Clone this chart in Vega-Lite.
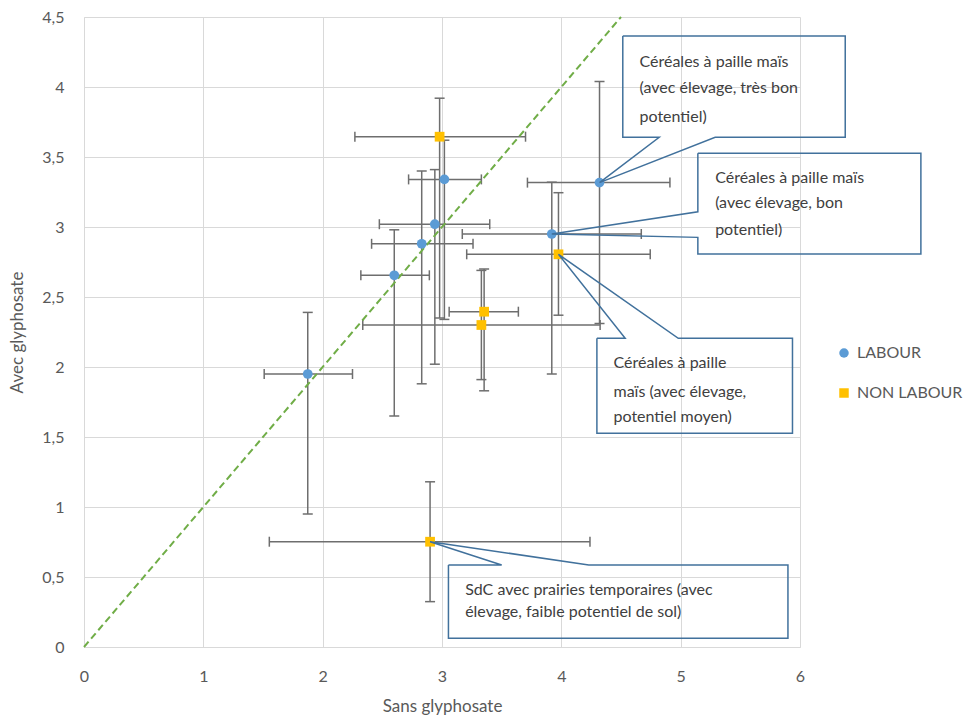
{
  "$schema": "https://vega.github.io/schema/vega-lite/v6.json",
  "width": 716,
  "height": 630,
  "autosize": "none",
  "padding": {"left": 84, "top": 17, "right": 165, "bottom": 77},
  "background": "white",
  "config": {
    "view": {"stroke": null},
    "font": "Lato",
    "axis": {
      "gridColor": "#D9D9D9", "gridWidth": 1, "domainColor": "#D9D9D9",
      "ticks": false, "tickSize": 0,
      "labelColor": "#595959", "labelFontSize": 16, "labelFont": "Lato",
      "titleColor": "#595959", "titleFontSize": 17, "titleFont": "Lato", "titleFontWeight": "normal"
    },
    "axisX": {"labelPadding": 21, "titlePadding": 14, "labelFlush": false},
    "axisY": {"labelPadding": 20, "titlePadding": 15}
  },
  "datasets": {
    "pts": [
      {"group": "LABOUR", "x": 1.875, "y": 1.95, "xlo": 1.51, "xhi": 2.25, "ylo": 0.95, "yhi": 2.39},
      {"group": "LABOUR", "x": 2.60, "y": 2.655, "xlo": 2.32, "xhi": 2.894, "ylo": 1.65, "yhi": 2.98},
      {"group": "LABOUR", "x": 2.83, "y": 2.88, "xlo": 2.41, "xhi": 3.26, "ylo": 1.88, "yhi": 3.40},
      {"group": "LABOUR", "x": 2.94, "y": 3.02, "xlo": 2.475, "xhi": 3.40, "ylo": 2.02, "yhi": 3.41},
      {"group": "LABOUR", "x": 3.02, "y": 3.34, "xlo": 2.72, "xhi": 3.33, "ylo": 2.34, "yhi": 3.62},
      {"group": "LABOUR", "x": 3.92, "y": 2.95, "xlo": 3.17, "xhi": 4.67, "ylo": 1.95, "yhi": 3.32},
      {"group": "LABOUR", "x": 4.32, "y": 3.317, "xlo": 3.716, "xhi": 4.91, "ylo": 2.31, "yhi": 4.04},
      {"group": "NON LABOUR", "x": 2.98, "y": 3.645, "xlo": 2.27, "xhi": 3.70, "ylo": 2.35, "yhi": 3.92},
      {"group": "NON LABOUR", "x": 3.976, "y": 2.805, "xlo": 3.207, "xhi": 4.745, "ylo": 2.37, "yhi": 3.245},
      {"group": "NON LABOUR", "x": 3.353, "y": 2.395, "xlo": 3.06, "xhi": 3.64, "ylo": 1.83, "yhi": 2.70},
      {"group": "NON LABOUR", "x": 3.33, "y": 2.30, "xlo": 2.336, "xhi": 4.325, "ylo": 1.91, "yhi": 2.69},
      {"group": "NON LABOUR", "x": 2.90, "y": 0.752, "xlo": 1.553, "xhi": 4.24, "ylo": 0.324, "yhi": 1.18}
    ],
    "diag": [{"x": 0, "y": 0}, {"x": 4.5, "y": 4.5}],
    "callouts": [
      {"c": 1, "i": 0, "x": 4.515, "y": 4.364},
      {"c": 1, "i": 1, "x": 6.379, "y": 4.364},
      {"c": 1, "i": 2, "x": 6.379, "y": 3.641},
      {"c": 1, "i": 3, "x": 5.289, "y": 3.641},
      {"c": 1, "i": 4, "x": 4.32, "y": 3.317},
      {"c": 1, "i": 5, "x": 4.82, "y": 3.641},
      {"c": 1, "i": 6, "x": 4.515, "y": 3.641},
      {"c": 1, "i": 7, "x": 4.515, "y": 4.364},
      {"c": 2, "i": 0, "x": 5.144, "y": 3.526},
      {"c": 2, "i": 1, "x": 7.013, "y": 3.526},
      {"c": 2, "i": 2, "x": 7.013, "y": 2.807},
      {"c": 2, "i": 3, "x": 5.144, "y": 2.807},
      {"c": 2, "i": 4, "x": 5.144, "y": 2.926},
      {"c": 2, "i": 5, "x": 3.92, "y": 2.95},
      {"c": 2, "i": 6, "x": 5.144, "y": 3.109},
      {"c": 2, "i": 7, "x": 5.144, "y": 3.526},
      {"c": 3, "i": 0, "x": 4.298, "y": 2.205},
      {"c": 3, "i": 1, "x": 4.535, "y": 2.205},
      {"c": 3, "i": 2, "x": 3.976, "y": 2.805},
      {"c": 3, "i": 3, "x": 4.98, "y": 2.205},
      {"c": 3, "i": 4, "x": 5.937, "y": 2.205},
      {"c": 3, "i": 5, "x": 5.937, "y": 1.526},
      {"c": 3, "i": 6, "x": 4.298, "y": 1.526},
      {"c": 3, "i": 7, "x": 4.298, "y": 2.205},
      {"c": 4, "i": 0, "x": 3.054, "y": 0.586},
      {"c": 4, "i": 1, "x": 3.50, "y": 0.586},
      {"c": 4, "i": 2, "x": 2.90, "y": 0.752},
      {"c": 4, "i": 3, "x": 4.23, "y": 0.586},
      {"c": 4, "i": 4, "x": 5.899, "y": 0.586},
      {"c": 4, "i": 5, "x": 5.899, "y": 0.062},
      {"c": 4, "i": 6, "x": 3.054, "y": 0.062},
      {"c": 4, "i": 7, "x": 3.054, "y": 0.586}
    ],
    "texts": [
      {"x": 4.655, "y": 4.181, "t": "Céréales à paille maïs"},
      {"x": 4.655, "y": 3.991, "t": "(avec élevage, très bon"},
      {"x": 4.655, "y": 3.788, "t": "potentiel)"},
      {"x": 5.289, "y": 3.348, "t": "Céréales à paille maïs"},
      {"x": 5.289, "y": 3.169, "t": "(avec élevage, bon"},
      {"x": 5.289, "y": 2.979, "t": "potentiel)"},
      {"x": 4.437, "y": 2.026, "t": "Céréales à paille"},
      {"x": 4.437, "y": 1.824, "t": "maïs (avec élevage,"},
      {"x": 4.437, "y": 1.645, "t": "potentiel moyen)"},
      {"x": 3.194, "y": 0.407, "t": "SdC avec prairies temporaires (avec"},
      {"x": 3.194, "y": 0.252, "t": "élevage, faible potentiel de sol)"}
    ]
  },
  "layer": [
    {
      "data": {"name": "pts"},
      "mark": {"type": "rule", "color": "#6E6E6E", "strokeWidth": 1.5},
      "encoding": {
        "x": {"field": "xlo", "type": "quantitative", "title": "Sans glyphosate",
              "scale": {"domain": [0, 6], "nice": false, "zero": true},
              "axis": {"values": [0, 1, 2, 3, 4, 5, 6], "format": "~g", "labelExpr": "replace(datum.label, '.', ',')"}},
        "x2": {"field": "xhi"},
        "y": {"field": "y", "type": "quantitative", "title": "Avec glyphosate",
              "scale": {"domain": [0, 4.5], "nice": false, "zero": true},
              "axis": {"values": [0, 0.5, 1, 1.5, 2, 2.5, 3, 3.5, 4, 4.5], "format": "~g", "labelExpr": "replace(datum.label, '.', ',')"}}
      }
    },
    {
      "data": {"name": "pts"},
      "mark": {"type": "rule", "color": "#6E6E6E", "strokeWidth": 1.5},
      "encoding": {
        "x": {"field": "x", "type": "quantitative", "title": "Sans glyphosate", "scale": {"domain": [0, 6], "nice": false}},
        "y": {"field": "ylo", "type": "quantitative", "title": "Avec glyphosate", "scale": {"domain": [0, 4.5], "nice": false}},
        "y2": {"field": "yhi"}
      }
    },
    {
      "data": {"name": "pts"},
      "mark": {"type": "tick", "orient": "vertical", "size": 10, "thickness": 1.5, "color": "#6E6E6E", "opacity": 1},
      "encoding": {
        "x": {"field": "xlo", "type": "quantitative", "title": "Sans glyphosate", "scale": {"domain": [0, 6], "nice": false}},
        "y": {"field": "y", "type": "quantitative", "title": "Avec glyphosate", "scale": {"domain": [0, 4.5], "nice": false}}
      }
    },
    {
      "data": {"name": "pts"},
      "mark": {"type": "tick", "orient": "vertical", "size": 10, "thickness": 1.5, "color": "#6E6E6E", "opacity": 1},
      "encoding": {
        "x": {"field": "xhi", "type": "quantitative", "title": "Sans glyphosate", "scale": {"domain": [0, 6], "nice": false}},
        "y": {"field": "y", "type": "quantitative", "title": "Avec glyphosate", "scale": {"domain": [0, 4.5], "nice": false}}
      }
    },
    {
      "data": {"name": "pts"},
      "mark": {"type": "tick", "orient": "horizontal", "size": 10, "thickness": 1.5, "color": "#6E6E6E", "opacity": 1},
      "encoding": {
        "x": {"field": "x", "type": "quantitative", "title": "Sans glyphosate", "scale": {"domain": [0, 6], "nice": false}},
        "y": {"field": "ylo", "type": "quantitative", "title": "Avec glyphosate", "scale": {"domain": [0, 4.5], "nice": false}}
      }
    },
    {
      "data": {"name": "pts"},
      "mark": {"type": "tick", "orient": "horizontal", "size": 10, "thickness": 1.5, "color": "#6E6E6E", "opacity": 1},
      "encoding": {
        "x": {"field": "x", "type": "quantitative", "title": "Sans glyphosate", "scale": {"domain": [0, 6], "nice": false}},
        "y": {"field": "yhi", "type": "quantitative", "title": "Avec glyphosate", "scale": {"domain": [0, 4.5], "nice": false}}
      }
    },
    {
      "data": {"name": "diag"},
      "mark": {"type": "line", "color": "#70AD47", "strokeWidth": 2, "strokeDash": [7, 4]},
      "encoding": {
        "x": {"field": "x", "type": "quantitative", "title": "Sans glyphosate", "scale": {"domain": [0, 6], "nice": false}},
        "y": {"field": "y", "type": "quantitative", "title": "Avec glyphosate", "scale": {"domain": [0, 4.5], "nice": false}}
      }
    },
    {
      "data": {"name": "pts"},
      "mark": {"type": "point", "filled": true, "opacity": 1, "size": 95},
      "encoding": {
        "x": {"field": "x", "type": "quantitative", "title": "Sans glyphosate", "scale": {"domain": [0, 6], "nice": false}},
        "y": {"field": "y", "type": "quantitative", "title": "Avec glyphosate", "scale": {"domain": [0, 4.5], "nice": false}},
        "color": {"field": "group", "type": "nominal",
                  "scale": {"domain": ["LABOUR", "NON LABOUR"], "range": ["#5B9BD5", "#FFC000"]},
                  "legend": {"orient": "none", "legendX": 752, "legendY": 328, "title": null, "padding": 0,
                             "labelFontSize": 16, "labelColor": "#595959", "labelFont": "Lato",
                             "rowPadding": 24, "symbolSize": 90, "labelOffset": 5}},
        "shape": {"field": "group", "type": "nominal",
                  "scale": {"domain": ["LABOUR", "NON LABOUR"], "range": ["circle", "square"]}}
      }
    },
    {
      "data": {"name": "callouts"},
      "mark": {"type": "line", "color": "#41719C", "strokeWidth": 1.5},
      "encoding": {
        "x": {"field": "x", "type": "quantitative", "title": "Sans glyphosate", "scale": {"domain": [0, 6], "nice": false}},
        "y": {"field": "y", "type": "quantitative", "title": "Avec glyphosate", "scale": {"domain": [0, 4.5], "nice": false}},
        "detail": {"field": "c", "type": "nominal"},
        "order": {"field": "i", "type": "quantitative"}
      }
    },
    {
      "data": {"name": "texts"},
      "mark": {"type": "text", "align": "left", "baseline": "middle", "fontSize": 16, "font": "Lato", "color": "#404040"},
      "encoding": {
        "x": {"field": "x", "type": "quantitative", "title": "Sans glyphosate", "scale": {"domain": [0, 6], "nice": false}},
        "y": {"field": "y", "type": "quantitative", "title": "Avec glyphosate", "scale": {"domain": [0, 4.5], "nice": false}},
        "text": {"field": "t", "type": "nominal"}
      }
    }
  ]
}
